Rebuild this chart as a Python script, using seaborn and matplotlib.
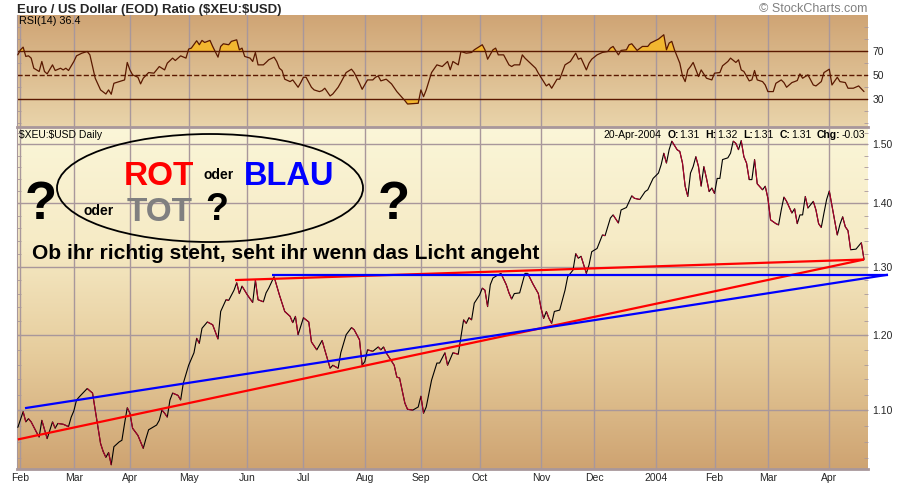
import numpy as np
import pandas as pd
import matplotlib
matplotlib.use("Agg")
import matplotlib.pyplot as plt
import seaborn as sns
from matplotlib.collections import LineCollection
from matplotlib.colors import LinearSegmentedColormap
from matplotlib.patches import Ellipse
from matplotlib.ticker import FixedLocator, FixedFormatter, NullFormatter
from matplotlib.offsetbox import TextArea, HPacker, AnchoredOffsetbox

sns.set_style("white")
plt.rcParams["font.family"] = ["Liberation Sans", "DejaVu Sans"]

# ---- data ----
trading_days = pd.bdate_range("2003-01-31", "2004-04-20")
month_labels = ["Feb", "Mar", "Apr", "May", "Jun", "Jul", "Aug", "Sep",
                "Oct", "Nov", "Dec", "2004", "Feb", "Mar", "Apr"]

# closing ratio, day = index into trading_days
price_day = [0, 2, 3, 4, 5, 7, 8, 9, 11, 13, 14, 15, 17, 19, 20, 21, 22, 23, 26, 28,
             29, 30, 31, 32, 33, 34, 35, 36, 38, 39, 40, 41, 42, 43, 45, 47, 48, 49, 50, 52,
             53, 54, 55, 56, 57, 58, 60, 61, 62, 64, 66, 67, 68, 69, 71, 73, 75, 76, 78, 79,
             81, 82, 83, 84, 86, 88, 89, 90, 92, 93, 94, 96, 98, 100, 102, 103, 104, 105, 107, 109,
             110, 112, 114, 115, 117, 118, 120, 121, 123, 125, 126, 128, 129, 130, 131, 133, 135, 136, 137, 138,
             141, 142, 143, 145, 146, 148, 150, 151, 152, 153, 155, 157, 158, 160, 161, 163, 165, 166, 167, 168,
             169, 170, 171, 173, 174, 175, 176, 177, 178, 180, 181, 183, 184, 185, 186, 188, 190, 191, 193, 195,
             196, 197, 198, 199, 200, 201, 203, 205, 206, 208, 209, 210, 211, 213, 214, 215, 217, 219, 220, 222,
             223, 225, 226, 228, 230, 231, 233, 235, 236, 238, 240, 241, 242, 243, 244, 245, 247, 248, 249, 250,
             251, 252, 253, 254, 255, 256, 257, 258, 259, 260, 261, 262, 263, 264, 266, 267, 268, 269, 270, 271,
             272, 273, 274, 275, 276, 277, 279, 280, 281, 282, 284, 285, 286, 287, 288, 290, 291, 292, 293, 294,
             295, 296, 298, 299, 300, 301, 302, 303, 304, 305, 306, 307, 308, 309, 310, 311, 312, 314, 316, 317]
price_close = [1.078, 1.098, 1.085, 1.089, 1.085, 1.072, 1.066, 1.087, 1.064, 1.085, 1.077, 1.083, 1.082, 1.079, 1.091, 1.099, 1.113, 1.117, 1.128, 1.122,
               1.100, 1.079, 1.058, 1.048, 1.041, 1.047, 1.032, 1.054, 1.060, 1.062, 1.083, 1.103, 1.096, 1.077, 1.068, 1.052, 1.064, 1.075, 1.077, 1.081,
               1.087, 1.100, 1.096, 1.091, 1.113, 1.122, 1.119, 1.113, 1.135, 1.159, 1.176, 1.196, 1.189, 1.210, 1.219, 1.215, 1.195, 1.234, 1.251, 1.250,
               1.265, 1.276, 1.260, 1.271, 1.258, 1.247, 1.280, 1.251, 1.248, 1.261, 1.268, 1.285, 1.258, 1.234, 1.227, 1.218, 1.227, 1.201, 1.225, 1.219,
               1.191, 1.180, 1.193, 1.180, 1.155, 1.159, 1.155, 1.176, 1.201, 1.211, 1.208, 1.194, 1.159, 1.164, 1.180, 1.178, 1.184, 1.180, 1.184, 1.176,
               1.159, 1.143, 1.142, 1.109, 1.101, 1.100, 1.104, 1.118, 1.096, 1.104, 1.139, 1.162, 1.162, 1.176, 1.159, 1.176, 1.174, 1.198, 1.222, 1.217,
               1.225, 1.222, 1.246, 1.258, 1.268, 1.265, 1.241, 1.273, 1.283, 1.288, 1.290, 1.273, 1.261, 1.252, 1.260, 1.261, 1.290, 1.290, 1.274, 1.260,
               1.239, 1.224, 1.234, 1.224, 1.217, 1.234, 1.236, 1.265, 1.285, 1.295, 1.320, 1.313, 1.316, 1.290, 1.303, 1.323, 1.328, 1.349, 1.348, 1.376,
               1.381, 1.368, 1.389, 1.393, 1.412, 1.408, 1.406, 1.419, 1.422, 1.441, 1.450, 1.464, 1.484, 1.467, 1.490, 1.505, 1.490, 1.487, 1.467, 1.428,
               1.411, 1.450, 1.461, 1.478, 1.461, 1.428, 1.461, 1.441, 1.419, 1.425, 1.416, 1.441, 1.441, 1.473, 1.476, 1.484, 1.505, 1.501, 1.490, 1.506,
               1.478, 1.467, 1.439, 1.439, 1.473, 1.432, 1.422, 1.428, 1.408, 1.373, 1.367, 1.365, 1.389, 1.410, 1.403, 1.384, 1.391, 1.367, 1.381, 1.381,
               1.411, 1.392, 1.403, 1.389, 1.367, 1.361, 1.384, 1.406, 1.420, 1.396, 1.372, 1.349, 1.366, 1.378, 1.362, 1.356, 1.326, 1.327, 1.337, 1.311]

rsi_day = [0, 1, 2, 3, 4, 5, 6, 8, 9, 10, 11, 13, 14, 16, 17, 18, 19, 21, 22, 24,
           26, 27, 28, 29, 31, 33, 34, 35, 36, 38, 40, 41, 42, 43, 45, 46, 47, 49, 51, 52,
           53, 55, 56, 58, 59, 61, 63, 64, 65, 67, 68, 69, 70, 72, 73, 75, 76, 77, 79, 80,
           82, 83, 84, 85, 87, 88, 89, 90, 92, 93, 94, 96, 97, 98, 99, 100, 102, 103, 105, 106,
           107, 108, 110, 111, 113, 114, 115, 117, 118, 120, 121, 123, 125, 126, 128, 129, 131, 133, 134, 135,
           136, 138, 140, 142, 145, 146, 150, 151, 152, 153, 155, 157, 159, 161, 162, 163, 165, 166, 168, 170,
           171, 172, 174, 175, 176, 178, 179, 180, 182, 184, 185, 186, 188, 189, 190, 192, 194, 195, 198, 199,
           200, 202, 203, 205, 207, 209, 210, 211, 213, 214, 215, 217, 219, 221, 222, 223, 225, 226, 228, 229,
           230, 232, 234, 236, 237, 239, 240, 242, 243, 244, 245, 246, 248, 249, 250, 251, 252, 253, 255, 256,
           258, 260, 261, 263, 264, 266, 267, 269, 270, 271, 272, 274, 275, 276, 277, 279, 280, 281, 283, 284,
           286, 287, 288, 290, 291, 292, 293, 294, 296, 298, 299, 301, 302, 304, 305, 307, 308, 310, 311, 313,
           315, 317]
rsi_value = [66.9, 71.1, 73.3, 65.6, 66.1, 64.2, 55.8, 53.1, 61.4, 53.1, 51.1, 58.6, 53.9, 55.8, 54.4, 55.8, 53.9, 61.4, 66.1, 68.3,
             69.7, 66.9, 57.2, 47.5, 37.8, 34.4, 37.8, 34.2, 43.3, 44.7, 46.1, 60.6, 54.4, 50.3, 48.3, 42.8, 47.5, 52.2, 51.7, 54.4,
             57.2, 54.4, 60.0, 64.2, 62.2, 66.1, 64.2, 71.7, 72.5, 78.6, 75.3, 78.9, 77.2, 78.9, 73.9, 65.0, 73.9, 76.1, 75.3, 78.1,
             79.4, 71.1, 72.5, 65.6, 64.2, 61.4, 68.9, 58.6, 58.6, 60.6, 62.8, 65.0, 61.4, 55.8, 53.9, 46.7, 44.7, 46.1, 40.0, 43.9,
             48.3, 48.3, 40.0, 37.8, 36.4, 37.2, 39.2, 32.8, 34.4, 40.0, 43.9, 52.2, 55.0, 52.2, 43.3, 38.3, 46.1, 46.1, 48.3, 49.4,
             45.3, 46.7, 42.8, 36.4, 28.9, 26.1, 26.7, 37.8, 32.2, 37.8, 52.2, 58.6, 57.2, 61.4, 54.5, 61.4, 58.6, 69.7, 68.3, 68.9,
             71.1, 72.5, 75.3, 71.1, 63.3, 71.1, 72.5, 66.9, 66.9, 58.6, 57.2, 58.6, 58.6, 66.9, 64.2, 60.0, 55.8, 51.7, 41.1, 42.8,
             39.2, 46.7, 46.7, 58.6, 61.4, 68.3, 63.3, 64.2, 54.4, 60.0, 63.3, 66.9, 68.9, 69.7, 72.5, 73.9, 66.9, 70.6, 71.1, 75.3,
             76.1, 70.6, 73.9, 73.9, 76.7, 78.9, 80.0, 83.6, 71.1, 76.7, 78.1, 71.1, 60.0, 49.4, 44.7, 54.4, 57.2, 60.6, 48.9, 54.4,
             47.5, 46.1, 51.7, 52.2, 57.8, 61.4, 64.2, 60.6, 62.8, 54.4, 53.1, 45.3, 46.1, 53.9, 46.1, 44.7, 41.9, 36.4, 36.4, 43.3,
             46.1, 43.9, 40.0, 43.9, 44.7, 45.6, 51.1, 47.5, 50.3, 41.9, 41.1, 44.7, 52.2, 55.0, 41.9, 48.3, 44.7, 43.9, 39.2, 39.2,
             41.1, 36.4]

# hand drawn trend lines: (day, ratio) end points
red_long_day, red_long_val = [0, 317], [1.063, 1.311]
red_top_day, red_top_val = [81.4, 317], [1.280, 1.311]
blue_flat_day, blue_flat_val = [95.2, 326], [1.288, 1.288]
blue_slope_day, blue_slope_val = [2.7, 326], [1.1025, 1.288]

price_ticks = [1.10, 1.20, 1.30, 1.40, 1.50]
price_minor = [1.04, 1.06, 1.08, 1.12, 1.14, 1.16, 1.18, 1.22, 1.24, 1.26, 1.28,
               1.32, 1.34, 1.36, 1.38, 1.42, 1.44, 1.46, 1.48, 1.52]
rsi_ticks = [30, 50, 70]
rsi_minor = [10, 20, 40, 60, 80, 90]

GRID = "#a8979b"
BROWN = "#5a1800"
CRIMSON = "#b0002c"

month_pos = np.flatnonzero(trading_days.month[1:] != trading_days.month[:-1]) + 1
xlim = (-0.3, 318.5)

fig = plt.figure(figsize=(9, 4.86), dpi=100)
fig.patch.set_facecolor("white")

W, H = 900.0, 486.0
rsi_rect = [17 / W, (H - 127) / H, 851 / W, 112 / H]
price_rect = [17 / W, (H - 469) / H, 851 / W, 342 / H]


def gradient_bg(rect, colors):
    # colors listed bottom -> top
    bg = fig.add_axes(rect, zorder=0)
    cmap = LinearSegmentedColormap.from_list("bg", colors)
    bg.imshow(np.linspace(0, 1, 256).reshape(-1, 1), cmap=cmap, origin="lower",
              aspect="auto", extent=[0, 1, 0, 1])
    bg.axis("off")


gradient_bg(rsi_rect, ["#e9d4aa", "#cfa474"])
gradient_bg(price_rect, ["#cea371", "#e6cc9c", "#f6ebc6", "#fbf6d8"])

ax_rsi = fig.add_axes(rsi_rect, zorder=1)
ax = fig.add_axes(price_rect, zorder=1)
for a in (ax_rsi, ax):
    a.patch.set_alpha(0)
    a.set_xlim(*xlim)
    a.xaxis.set_major_locator(FixedLocator(month_pos))
    a.grid(True, axis="x", color=GRID, lw=1)
    for s in ("top", "right"):
        a.spines[s].set_visible(False)
    a.spines["left"].set_color(GRID)
    a.spines["bottom"].set_color(GRID)
    a.spines["bottom"].set_linewidth(2)

# ---- RSI panel ----
rsi = np.array(rsi_value)
sns.lineplot(x=rsi_day, y=rsi_value, ax=ax_rsi, color=BROWN, lw=0.9, zorder=3)
ax_rsi.fill_between(rsi_day, rsi, 70, where=rsi >= 70, interpolate=True,
                    color="#f2b630", zorder=2, lw=0)
ax_rsi.fill_between(rsi_day, rsi, 30, where=rsi <= 30, interpolate=True,
                    color="#f2b630", zorder=2, lw=0)
for lvl in rsi_ticks:
    ax_rsi.axhline(lvl, color=BROWN, lw=1, ls="--" if lvl == 50 else "-", zorder=2)
ax_rsi.set_ylim(7, 100)
ax_rsi.yaxis.set_major_locator(FixedLocator(rsi_ticks))
ax_rsi.yaxis.set_minor_locator(FixedLocator(rsi_minor))
ax_rsi.yaxis.set_major_formatter(FixedFormatter([str(t) for t in rsi_ticks]))
ax_rsi.tick_params(axis="y", which="both", left=True, right=True, labelleft=False,
                   labelright=True, direction="in", length=3, color=GRID,
                   labelsize=7.5, pad=3)
ax_rsi.tick_params(axis="x", bottom=False, labelbottom=False)
ax_rsi.set_xlabel("")
ax_rsi.set_ylabel("")
ax_rsi.text(0.002, 0.99, "RSI(14) 36.4", transform=ax_rsi.transAxes, ha="left",
            va="top", fontsize=7.8, color="black")

# ---- price panel ----
ax.set_yscale("log")
ax.set_ylim(1.027, 1.530)
ax.yaxis.set_major_locator(FixedLocator(price_ticks))
ax.yaxis.set_minor_locator(FixedLocator(price_minor))
ax.yaxis.set_major_formatter(FixedFormatter(["%.2f" % t for t in price_ticks]))
ax.yaxis.set_minor_formatter(NullFormatter())
ax.grid(True, axis="y", which="major", color=GRID, lw=1)
ax.tick_params(axis="y", which="both", left=True, right=True, labelleft=False,
               labelright=True, direction="in", length=3, color=GRID,
               labelsize=7.5, pad=3)
ax.xaxis.set_major_formatter(FixedFormatter(month_labels))
ax.tick_params(axis="x", length=0, labelsize=7.5, pad=3)

sns.lineplot(x=price_day, y=price_close, ax=ax, color="black", lw=0.8, zorder=3)
pts = np.column_stack([price_day, price_close])
segs = np.stack([pts[:-1], pts[1:]], axis=1)
down = np.diff(price_close) < 0
ax.add_collection(LineCollection(segs[down], colors=CRIMSON, linewidths=0.8, zorder=3))

for d, v, c in [(red_long_day, red_long_val, "#ff0000"), (red_top_day, red_top_val, "#ff0000"),
                (blue_flat_day, blue_flat_val, "#0000ff"), (blue_slope_day, blue_slope_val, "#0000ff")]:
    ax.plot(d, v, color=c, lw=1.6, zorder=4, clip_on=False, solid_capstyle="butt")
ax.set_xlabel("")
ax.set_ylabel("")
ax.set_xlim(*xlim)

ax.text(0.002, 0.99, r"\$XEU:\$USD Daily", transform=ax.transAxes, ha="left", va="top",
        fontsize=7.5, color="black")


def ohlc_box():
    fs = 7.5
    norm = dict(fontsize=fs, color="black")
    bold = dict(fontsize=fs, color="black", fontweight="bold")
    groups = [TextArea("20-Apr-2004", textprops=norm)]
    for k, v in [("O:", "1.31"), ("H:", "1.32"), ("L:", "1.31"), ("C:", "1.31"), ("Chg:", "-0.03")]:
        groups.append(HPacker(children=[TextArea(k, textprops=bold), TextArea(v, textprops=norm)],
                              pad=0, sep=0.5))
    box = HPacker(children=groups, pad=0, sep=4, align="baseline")
    return AnchoredOffsetbox(loc="upper right", child=box, pad=0, borderpad=0.15,
                             frameon=False, bbox_to_anchor=(0.999, 0.998),
                             bbox_transform=ax.transAxes)


ax.add_artist(ohlc_box())

# ---- hand written annotation ----
ax.add_patch(Ellipse((0.2268, 0.8216), 0.3596, 0.3158, transform=ax.transAxes,
                     fill=False, ec="black", lw=1.3, zorder=5))
big = dict(transform=ax.transAxes, ha="left", va="baseline", fontweight="bold", zorder=6)
ax.text(0.126, 0.8304, "ROT", color="#ff0000", fontsize=24, **big)
ax.text(0.2186, 0.848, "oder", color="black", fontsize=10, **big)
ax.text(0.267, 0.8304, "BLAU", color="#0000ff", fontsize=23.5, **big)
ax.text(0.0094, 0.731, "?", color="black", fontsize=38, **big)
ax.text(0.0787, 0.7427, "oder", color="black", fontsize=10, **big)
ax.text(0.1284, 0.726, "TOT", color="#808080", fontsize=24, **big)
ax.text(0.2209, 0.728, "?", color="black", fontsize=27, **big)
ax.text(0.4242, 0.731, "?", color="black", fontsize=38, **big)
ax.text(0.0176, 0.614, "Ob ihr richtig steht, seht ihr wenn das Licht angeht",
        color="black", fontsize=15.1, **big)

# ---- header ----
fig.text(17 / W, (H - 12.5) / H, r"Euro / US Dollar (EOD) Ratio (\$XEU:\$USD)",
         ha="left", va="baseline", fontsize=9.5, fontweight="bold")
fig.text(867 / W, (H - 12.5) / H, "\u00a9 StockCharts.com", ha="right", va="baseline",
         fontsize=9, color="#808080")

fig.savefig("out.png", dpi=100)
